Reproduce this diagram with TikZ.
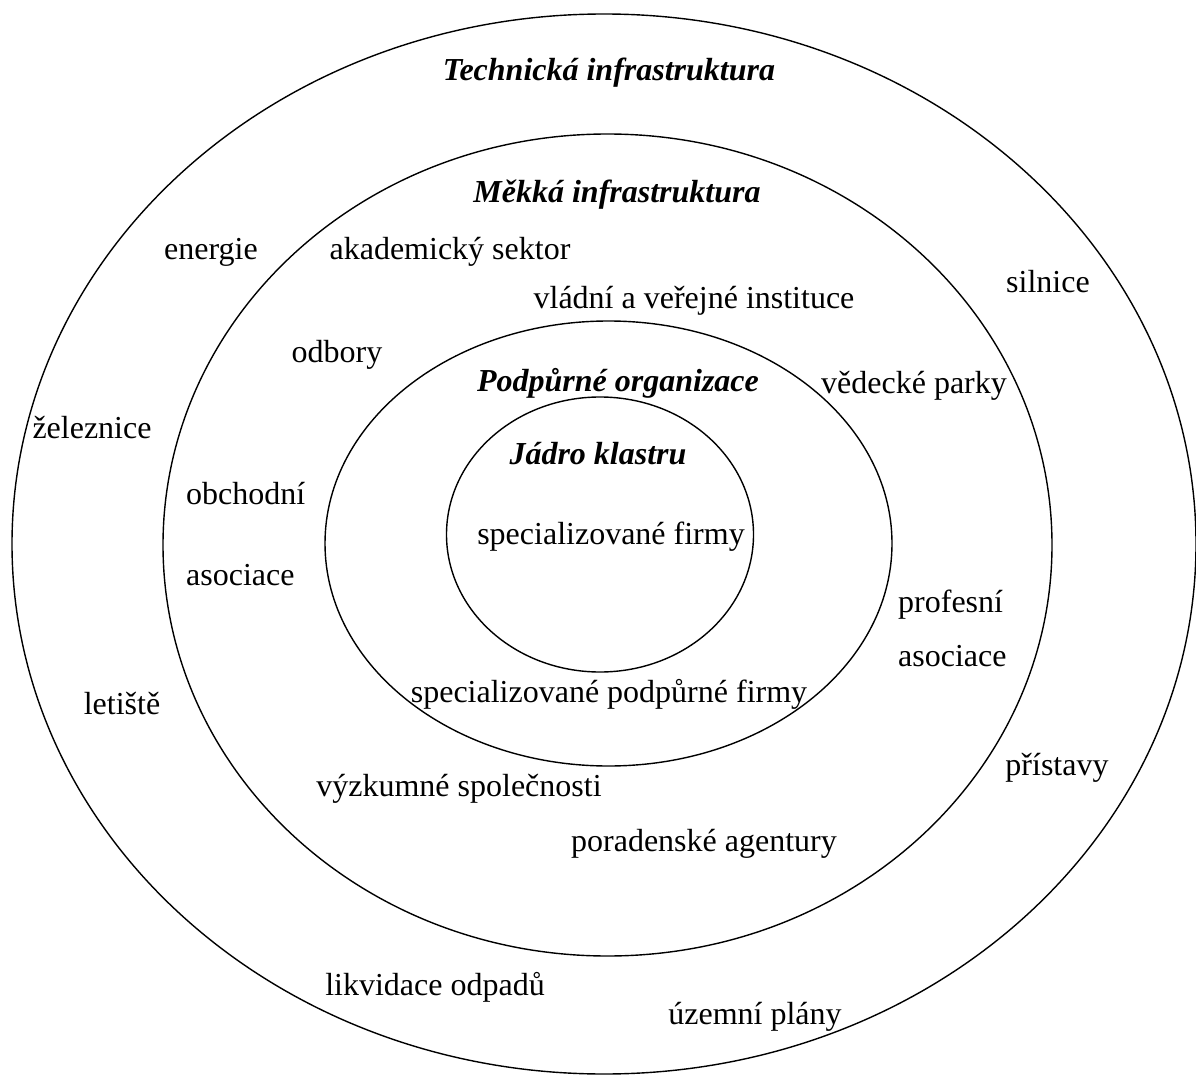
\documentclass[tikz,border=0pt]{standalone}
\usepackage{fontspec}
\setmainfont{Liberation Serif}
\begin{document}
\begin{tikzpicture}[x=1pt,y=-1pt,
  ring/.style={line width=1.4pt},
  lbl/.style={anchor=base,inner sep=0pt,font=\fontsize{32}{38}\selectfont},
  lbll/.style={anchor=base west,inner sep=0pt,font=\fontsize{32}{38}\selectfont},
  ttl/.style={anchor=base,inner sep=0pt,font=\fontsize{32}{38}\selectfont\bfseries\itshape}]
\useasboundingbox (0,0) rectangle (1196,1075);
% nested layers of the cluster
\draw[ring] (604,544) ellipse [x radius=592pt, y radius=530pt];
\draw[ring] (607.5,545) ellipse [x radius=444.5pt, y radius=411pt];
\draw[ring] (608.5,543.5) ellipse [x radius=283.5pt, y radius=222.5pt];
\draw[ring] (600,534.5) ellipse [x radius=153.5pt, y radius=137.5pt];
% layer titles
\node[ttl] (tech) at (609,81) {Technická infrastruktura};
\node[ttl] (soft) at (617,203) {Měkká infrastruktura};
\node[ttl] (supp) at (618,391) {Podpůrné organizace};
\node[ttl] (core) at (598,464) {Jádro klastru};
% technical infrastructure
\node[lbl] (energie) at (211,260) {energie};
\node[lbl] (silnice) at (1048,292) {silnice};
\node[lbl] (zelez) at (92,438) {železnice};
\node[lbl] (letiste) at (122,714) {letiště};
\node[lbl] (pristavy) at (1057,775) {přístavy};
\node[lbl] (odpady) at (435,995) {likvidace odpadů};
\node[lbl] (plany) at (755,1024) {územní plány};
% soft infrastructure
\node[lbl] (akad) at (450,260) {akademický sektor};
\node[lbl] (vlad) at (694,308) {vládní a veřejné instituce};
\node[lbl] (odbory) at (337,362) {odbory};
\node[lbl] (parky) at (914,393) {vědecké parky};
\node[lbll] (obch1) at (186,504) {obchodní};
\node[lbll] (obch2) at (186,585) {asociace};
\node[lbll] (prof1) at (898,612) {profesní};
\node[lbll] (prof2) at (898,666) {asociace};
\node[lbl] (vyzk) at (459,796) {výzkumné společnosti};
\node[lbl] (porad) at (704,851) {poradenské agentury};
% supporting organisations and core
\node[lbl] (spodp) at (609,702) {specializované podpůrné firmy};
\node[lbl] (sfirm) at (611,544) {specializované firmy};
\end{tikzpicture}
\end{document}
